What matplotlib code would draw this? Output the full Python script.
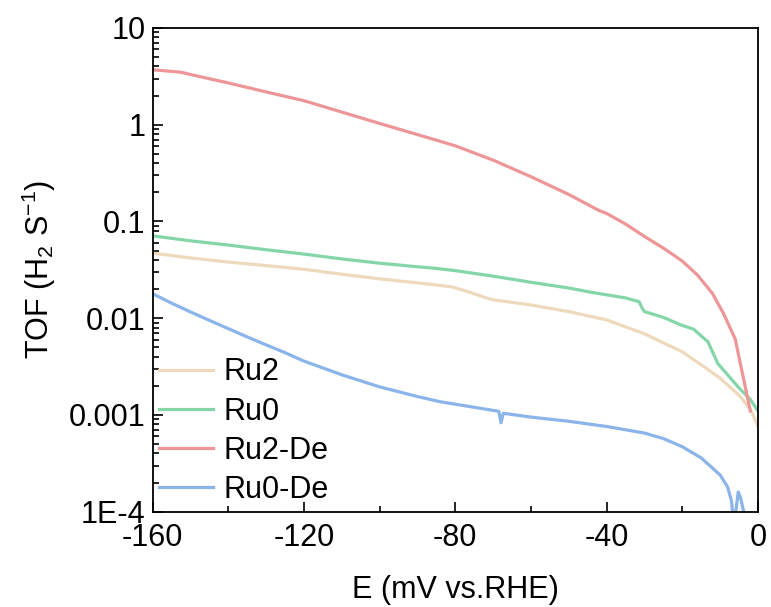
import matplotlib
matplotlib.use("Agg")
import matplotlib.pyplot as plt
from matplotlib.ticker import LogLocator, FixedLocator, NullFormatter

plt.rcParams['font.family'] = ['Liberation Sans', 'DejaVu Sans']
plt.rcParams['mathtext.fontset'] = 'custom'
plt.rcParams['mathtext.rm'] = 'Liberation Sans'
plt.rcParams['mathtext.default'] = 'regular'

# Data
e_ru2 = [-160, -150, -140, -130, -120, -110, -100, -90, -81, -77, -72, -70, -60, -50, -40, -30, -20, -15, -10, -5, -2, 0]
tof_ru2 = [0.047, 0.042, 0.038, 0.035, 0.032, 0.0285, 0.0255, 0.0232, 0.0211, 0.019, 0.0163, 0.0155, 0.0137, 0.0117,
           0.0096, 0.0069, 0.0045, 0.0033, 0.0024, 0.0016, 0.00115, 0.00077]

e_ru0 = [-160, -150, -140, -130, -120, -110, -100, -90, -86, -80, -70, -60, -50, -44, -35, -31.4, -30.5, -30, -25,
         -20.3, -17, -13.2, -10.6, -8, -5, -2, 0]
tof_ru0 = [0.071, 0.063, 0.057, 0.051, 0.046, 0.041, 0.037, 0.034, 0.033, 0.031, 0.0272, 0.0235, 0.0205, 0.0185,
           0.0162, 0.0148, 0.0125, 0.0117, 0.0102, 0.0085, 0.0077, 0.0057, 0.0034, 0.0026, 0.0019, 0.00145, 0.0011]

e_ru2de = [-160, -155, -153, -152, -150, -140, -130, -120, -110, -100, -90, -80, -70, -60, -50, -43, -42, -40, -35,
           -30, -25, -20, -16, -12, -9, -6, -2]
tof_ru2de = [3.7, 3.55, 3.5, 3.45, 3.3, 2.7, 2.18, 1.77, 1.35, 1.03, 0.79, 0.605, 0.43, 0.29, 0.19, 0.136, 0.13, 0.121,
             0.094, 0.07, 0.053, 0.039, 0.028, 0.018, 0.011, 0.0061, 0.0011]

e_ru0de = [-160, -155, -150, -145, -140, -135, -130, -125, -120, -110, -100, -90, -84, -75, -68.5, -67.9, -67.3, -60,
           -50, -40, -30, -25, -20, -15, -10, -8, -7, -6.6, -6.0, -5.2, -4.6, -3.5]
tof_ru0de = [0.0179, 0.0143, 0.0116, 0.0095, 0.0078, 0.0064, 0.0053, 0.0044, 0.0036, 0.0026, 0.00195, 0.00155,
             0.00137, 0.0012, 0.00109, 0.00083, 0.00104, 0.00095, 0.00086, 0.00076, 0.00065, 0.00057, 0.00047,
             0.00036, 0.00024, 0.00018, 0.00013, 0.00009, 0.00009, 0.00016, 0.00014, 0.00009]

labels = ["Ru2", "Ru0", "Ru2-De", "Ru0-De"]
colors = ["#EED9BD", "#84D6A9", "#EE9697", "#8BB4EA"]

fig = plt.figure(figsize=(7.71, 6.07), dpi=100)
ax = fig.add_axes([0.198, 0.157, 0.785, 0.797])

for x, y, lab, c in zip([e_ru2, e_ru0, e_ru2de, e_ru0de],
                        [tof_ru2, tof_ru0, tof_ru2de, tof_ru0de], labels, colors):
    ax.plot(x, y, color=c, lw=2.3, label=lab, solid_joinstyle='round')

ax.set_yscale('log')
ax.set_xlim(-160, 0)
ax.set_ylim(1e-4, 10)
ax.set_xticks([-160, -120, -80, -40, 0])
ax.set_xticklabels(["-160", "-120", "-80", "-40", "0"])
ax.xaxis.set_minor_locator(FixedLocator([-140, -100, -60, -20]))
ax.set_yticks([1e-4, 1e-3, 1e-2, 1e-1, 1, 10])
ax.set_yticklabels(["1E-4", "0.001", "0.01", "0.1", "1", "10"])
ax.yaxis.set_minor_locator(LogLocator(base=10, subs=range(2, 10), numticks=20))
ax.yaxis.set_minor_formatter(NullFormatter())

ax.tick_params(which='both', direction='in', top=False, right=False, labelsize=22, width=1.2)
ax.tick_params(which='major', length=7)
ax.tick_params(axis='x', which='major', pad=8)
ax.tick_params(axis='y', which='major', pad=5)
ax.tick_params(which='minor', length=4)
for s in ax.spines.values():
    s.set_linewidth(1.3)

ax.set_xlabel("E (mV vs.RHE)", fontsize=22, labelpad=16)
ax.set_ylabel(r"TOF (H$_2$ S$^{-1}$)", fontsize=22, labelpad=8)

leg = ax.legend(loc='lower left', frameon=False, fontsize=22, handlelength=1.75,
                handletextpad=0.35, labelspacing=0.3, borderaxespad=0.0, borderpad=0.22,
                bbox_to_anchor=(0.0, 0.0))

fig.savefig("out.png", dpi=100)
